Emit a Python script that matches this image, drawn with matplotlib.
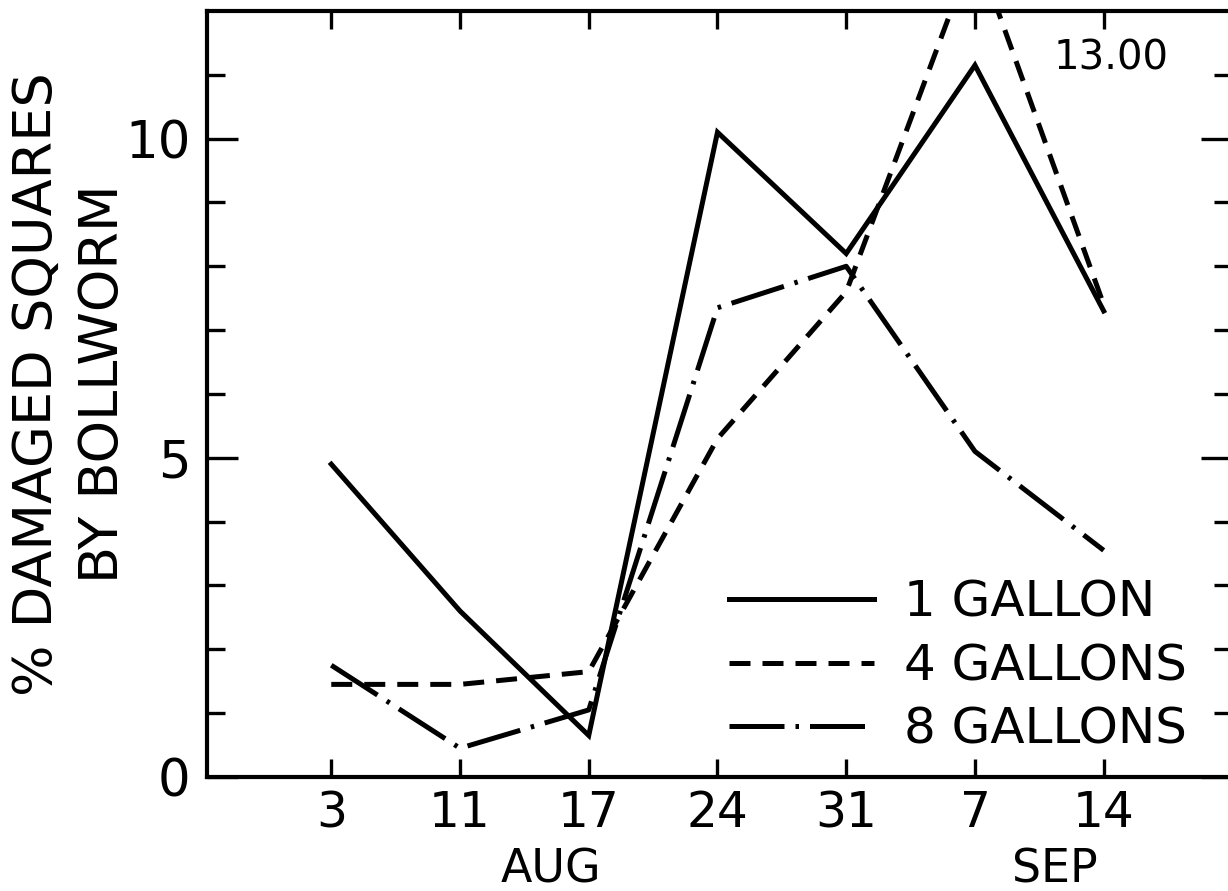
#!/usr/bin/env python3
"""Bollworm damage to squares by spray volume - line chart"""

import matplotlib
matplotlib.use('Agg')
import matplotlib.pyplot as plt
import numpy as np

# sampling dates (Aug 3 .. Sep 14)
dates = ['3', '11', '17', '24', '31', '7', '14']
months = ['AUG', 'SEP']

# % damaged squares
one_gallon = [4.9, 2.6, 0.65, 10.1, 8.2, 11.15, 7.3]
four_gallons = [1.45, 1.45, 1.65, 5.3, 7.6, 13.0, 7.4]
eight_gallons = [1.75, 0.45, 1.05, 7.35, 8.0, 5.1, 3.55]

series_labels = ['1 GALLON', '4 GALLONS', '8 GALLONS']
peak_label = '13.00'


def create_chart():
    fig = plt.figure(figsize=(12.28, 8.91), dpi=100)
    ax = fig.add_axes([0.1686, 0.128, 0.835, 0.8597])

    x = np.arange(len(dates))
    lw = 3.6
    l1, = ax.plot(x, one_gallon, color='black', lw=lw, ls='-',
                  solid_joinstyle='miter', label=series_labels[0])
    l2, = ax.plot(x, four_gallons, color='black', lw=lw,
                  dashes=(4.2, 2.4), label=series_labels[1])
    l3, = ax.plot(x, eight_gallons, color='black', lw=lw,
                  dashes=(11, 2.2, 0.7, 2.2), label=series_labels[2])

    ax.set_xlim(-0.965, 7.0)
    ax.set_ylim(0, 12)

    # axes frame and ticks (all inward, like the drafted original)
    for s in ax.spines.values():
        s.set_linewidth(3.0)
    ax.set_xticks(x)
    ax.set_xticklabels(dates)
    ax.set_yticks([0, 5, 10])
    ax.set_yticklabels(['0', '5', '10'])
    ax.yaxis.set_minor_locator(matplotlib.ticker.FixedLocator(
        [v for v in range(1, 12) if v % 5 != 0]))
    ax.tick_params(axis='both', which='both', direction='in',
                   top=True, right=True, width=2.4, color='black')
    ax.tick_params(axis='y', which='major', length=22, labelsize=37, pad=12)
    ax.tick_params(axis='y', which='minor', length=13)
    ax.tick_params(axis='x', which='major', length=13, labelsize=35, pad=9)

    # month labels under the dates
    ax.text(1.71, -0.1384, months[0], transform=ax.get_xaxis_transform(),
            ha='center', va='baseline', fontsize=33)
    ax.text(5.62, -0.1384, months[1], transform=ax.get_xaxis_transform(),
            ha='center', va='baseline', fontsize=33)

    # value of the clipped 4-gallon peak
    ax.text(6.06, 11.25, peak_label, ha='center', va='center', fontsize=29)

    fig.text(0.057, 0.569, '% DAMAGED SQUARES\nBY BOLLWORM', rotation=90,
             ha='center', va='center', multialignment='center',
             fontsize=39, linespacing=1.36)

    ax.legend(handles=[l1, l2, l3], loc='lower left',
              bbox_to_anchor=(0.509, 0.03), frameon=False, fontsize=36,
              handlelength=2.9, handletextpad=0.6, labelspacing=0.31,
              borderpad=0, borderaxespad=0)
    return fig


if __name__ == "__main__":
    fig = create_chart()
    fig.savefig('out.png', dpi=100, facecolor='white')
